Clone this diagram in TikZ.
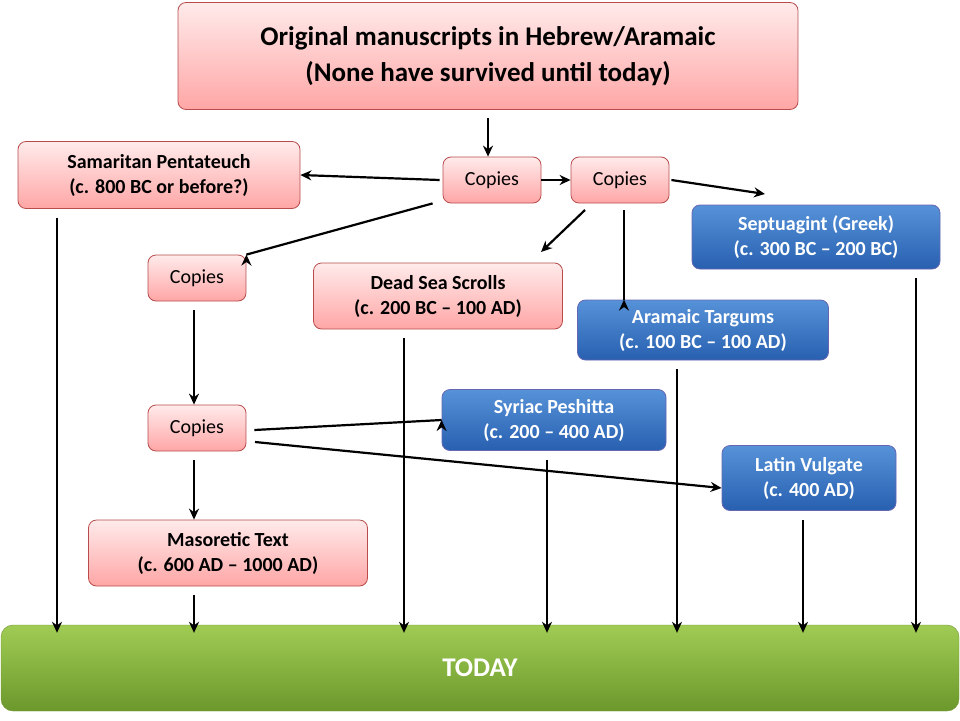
\documentclass[tikz,border=0pt]{standalone}
\usepackage{fontspec}
\setmainfont{Carlito}
\usetikzlibrary{arrows.meta}
\tikzset{
 pinkbox/.style={draw=red!60!black!70, line width=0.8pt, rounded corners=8pt, top color=red!8, bottom color=red!35!white, align=center, inner sep=0pt},
 bluebox/.style={draw=blue!50!black!60, line width=0.8pt, rounded corners=8pt, top color={rgb,255:red,86;green,146;blue,216}, bottom color={rgb,255:red,40;green,96;blue,176}, text=white, align=center, inner sep=0pt, font=\fontsize{20}{25}\selectfont\bfseries},
 lbl/.style={font=\fontsize{20}{25}\selectfont\bfseries},
 cop/.style={pinkbox, minimum width=98pt, minimum height=46pt, font=\fontsize{20}{24}\selectfont},
 arr/.style={-{Stealth[length=11pt,width=10pt]}, line width=2.2pt}
}
\begin{document}
\begin{tikzpicture}[x=1pt,y=-1pt]
\useasboundingbox (0,0) rectangle (960,720);
\node[pinkbox, minimum width=620pt, minimum height=107pt, font=\fontsize{27}{36}\selectfont\bfseries] (top) at (488,56) {Original manuscripts in Hebrew/Aramaic\\(None have survived until today)};
\node[pinkbox, lbl, minimum width=282pt, minimum height=67pt] (sam) at (159,175) {Samaritan Pentateuch\\(c. 800 BC or before?)};
\node[cop] (c1) at (492,180) {Copies};
\node[cop] (c2) at (620,180) {Copies};
\node[bluebox, minimum width=248pt, minimum height=64pt] (sep) at (816,237) {Septuagint (Greek)\\(c. 300 BC -- 200 BC)};
\node[cop] (c3) at (197,278) {Copies};
\node[pinkbox, lbl, minimum width=249pt, minimum height=66pt] (dss) at (438,296) {Dead Sea Scrolls\\(c. 200 BC -- 100 AD)};
\node[bluebox, minimum width=251pt, minimum height=60pt] (ara) at (703,330) {Aramaic Targums\\(c. 100 BC -- 100 AD)};
\node[cop] (c4) at (197,428) {Copies};
\node[bluebox, minimum width=224pt, minimum height=61pt] (syr) at (554,420) {Syriac Peshitta\\(c. 200 -- 400 AD)};
\node[bluebox, minimum width=174pt, minimum height=65pt] (vul) at (809,478) {Latin Vulgate\\(c. 400 AD)};
\node[pinkbox, lbl, minimum width=279pt, minimum height=66pt] (mas) at (228,553) {Masoretic Text\\(c. 600 AD -- 1000 AD)};
\node[draw={rgb,255:red,110;green,150;blue,50}, rounded corners=12pt, top color={rgb,255:red,160;green,204;blue,84}, bottom color={rgb,255:red,108;green,152;blue,44}, minimum width=958pt, minimum height=86pt, text=white, font=\fontsize{27}{32}\selectfont\bfseries] (today) at (480,668) {TODAY};

\draw[arr] (top.south -| 488,0) ++(0,8) -- (c1.north -| 488,0);
\draw[arr] (c1.west) ++(-3,0) -- (sam.east) ;
\draw[arr] (c1.east) -- (c2.west);
\draw[arr] (c2.east) ++(2,0) -- (765,194) coordinate (sepin);
\draw[arr] (c1.south west) ++(-10,0) -- (c3.north east) ++(0,0);
\draw[arr] (585,210) -- (541,252) coordinate (dssin);
\draw[arr] (c2.south -| 624,0) ++(0,7) -- (ara.north -| 624,0) ++(0,0);
\draw[arr] (c3.south -| 194,0) ++(0,9) -- (c4.north -| 194,0);
\draw[arr] (c4.east) ++(8,2) -- (syr.west) ++(0,0);
\draw[arr] (255,442) -- (vul.west |- 0,488);
\draw[arr] (c4.south -| 194,0) ++(0,9) -- (mas.north -| 194,0);
\foreach \n/\x in {sam/57, mas/194, dss/404, syr/547, ara/677, vul/803, sep/916}
  \draw[arr] (\n.south -| \x,0) ++(0,9) -- ([yshift=-8pt]today.north -| \x,0);
\end{tikzpicture}
\end{document}
